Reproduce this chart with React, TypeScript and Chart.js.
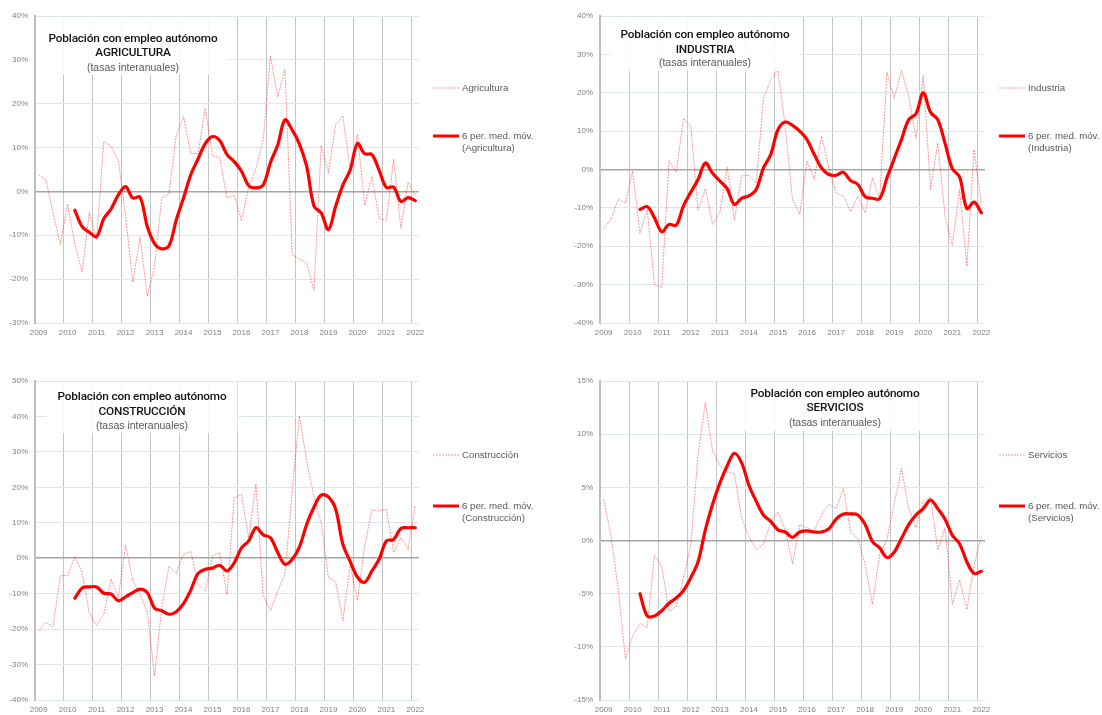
import React, { useEffect, useRef } from 'react';
import { Chart, registerables } from 'chart.js';

Chart.register(...registerables);

// ---------- DATA ----------
const years = ['2009', '2010', '2011', '2012', '2013', '2014', '2015', '2016', '2017', '2018', '2019', '2020', '2021', '2022'];
const quarters = ['T1', 'T2', 'T3', 'T4'];

const categories: string[] = [];
years.forEach((y) => {
  quarters.forEach((q) => {
    if (y === '2022' && q !== 'T1') return;
    categories.push(`${y} ${q}`);
  });
});
const tickLabels = categories.map((c) => (c.endsWith('T1') ? c.slice(0, 4) : ''));

const sectorNames = ['Agricultura', 'Industria', 'Construcción', 'Servicios'];
const sectorTitles = ['AGRICULTURA', 'INDUSTRIA', 'CONSTRUCCIÓN', 'SERVICIOS'];
const titleLine = 'Población con empleo autónomo';
const subtitleLine = '(tasas interanuales)';
const maLabel = '6 per. med. móv.';

const agriculturaTasa = [3.8, 2.7, -5, -12.1, -2.8, -12, -18.4, -4.7, -11, 11.4, 10.3, 7.1, -5.5, -20.7, -10.4, -23.9, -17, -1.4, -0.6, 12.9, 17.1, 8.7, 8.6, 19.0, 8.1, 7.7, -1.5, -0.8, -6.7, 1.1, 5.3, 11.8, 30.9, 21.5, 27.9, -14.4, -15.4, -16.3, -22.6, 10.5, 4.3, 15.2, 17.2, 5, 13, -3.2, 3.4, -6.2, -6.6, 7.4, -8.4, 2.1, -1.1];
const agriculturaMedia = [null, null, null, null, null, -4.3, -8.0, -9.3, -10.3, -6.2, -4.0, -0.8, 1.1, -1.5, -1.3, -8.0, -11.9, -13.1, -12.4, -6.5, -1.5, 3.8, 7.4, 10.9, 12.5, 11.6, 8.4, 6.8, 4.6, 1.3, 0.8, 1.5, 6.6, 10.6, 16.3, 14.0, 10.8, 5.7, -3.3, -4.9, -8.7, -3.4, 1.5, 4.9, 10.9, 8.6, 8.4, 4.8, 0.9, 1.0, -2.3, -1.4, -2.1];

const industriaTasa = [-15.4, -13.0, -7.8, -8.7, -0.4, -16.7, -10.4, -29.9, -30.8, 2.3, -0.7, 13.3, 11.3, -10.6, -5.0, -14.3, -11.3, 0.7, -13.2, -1.7, -1.5, -3.5, 18.4, 23.4, 25.8, 11.3, -7.8, -11.7, 2.2, -2.6, 8.7, 0.4, -6.1, -6.9, -11.0, -6.9, -11.3, -2.2, -7.8, 25.3, 18.5, 25.8, 19.1, 8.1, 24.5, -5.0, 6.9, -12.1, -19.8, -5.2, -25.2, 5.2, -9.1];
const industriaMedia = [null, null, null, null, null, -10.4, -9.7, -12.6, -16.2, -14.3, -14.5, -9.4, -5.9, -2.6, 1.7, -1.0, -3.0, -5.0, -9.1, -7.5, -6.9, -5.2, 0.4, 3.9, 10.4, 12.4, 11.5, 10.0, 7.8, 3.9, 0.4, -1.3, -1.5, -0.7, -2.9, -3.9, -7.1, -7.5, -7.6, -2.2, 2.8, 7.8, 13.0, 14.5, 20.0, 14.9, 13.0, 6.8, 0.2, -1.9, -10.2, -8.5, -11.3];

const construccionTasa = [-20.5, -18.1, -19.3, -4.9, -4.9, 0.5, -4.0, -15.6, -19.0, -15.8, -5.9, -11.1, 3.7, -6.4, -10.1, -15.3, -33.1, -14, -2.2, -4.3, 1.1, 1.9, -7.3, -9.2, 0.7, 1.6, -10.3, 17.1, 18.0, 5.8, 21.0, -10.6, -14.8, -9.2, -4.5, 19, 40.1, 27.4, 17.5, 10.0, -5.4, -6.8, -17.6, -1.7, -12.0, 3.5, 13.6, 13.3, 13.8, 1.6, 5.8, 2.5, 14.9];
const construccionMedia = [null, null, null, null, null, -11.3, -8.4, -8.1, -8.1, -9.9, -10.1, -12.0, -10.9, -9.7, -8.7, -9.7, -14.1, -14.8, -15.8, -15.1, -12.8, -9.0, -4.3, -3.1, -2.8, -2.0, -3.6, -1.3, 2.9, 4.9, 8.6, 6.6, 5.8, 1.6, -1.7, -0.3, 3.2, 9.6, 14.4, 17.8, 17.3, 13.8, 3.9, -0.9, -5.3, -6.8, -3.6, -0.3, 4.9, 5.3, 8.4, 8.6, 8.6];

const serviciosTasa = [3.9, 0.5, -4.5, -11.1, -9.0, -7.8, -8.2, -1.4, -2.4, -6.7, -6.2, -3.5, -0.4, 8.1, 13.0, 8.4, 7.1, 6.4, 6.3, 2.1, 0.4, -0.9, -0.3, 1.7, 2.7, 1.0, -2.2, 1.5, 1.2, 0.9, 2.4, 3.4, 3.0, 4.9, 0.8, 0.2, -2.3, -6.0, -1.3, 0.1, 3.4, 6.8, 3.0, 1.2, 3.7, 4.1, -0.9, 1.2, -6.0, -3.7, -6.5, -2.3, 0.4];
const serviciosMedia = [null, null, null, null, null, -5.0, -7.1, -7.1, -6.6, -5.9, -5.4, -4.7, -3.5, -2.0, 1.0, 3.4, 5.4, 7.0, 8.2, 7.3, 5.2, 3.7, 2.4, 1.8, 1.0, 0.8, 0.3, 0.8, 0.9, 0.8, 0.8, 1.1, 2.0, 2.5, 2.5, 2.4, 1.5, -0.1, -0.7, -1.6, -1.1, 0.2, 1.5, 2.4, 3.0, 3.8, 3.0, 2.0, 0.5, -0.3, -2.0, -3.1, -2.9];

const tasas = [agriculturaTasa, industriaTasa, construccionTasa, serviciosTasa];
const medias = [agriculturaMedia, industriaMedia, construccionMedia, serviciosMedia];
const yMins = [-30, -40, -40, -15];
const yMaxs = [40, 40, 50, 15];
const ySteps = [10, 10, 10, 5];

// ---------- LAYOUT ----------
type Layout = {
  left: number; top: number; w: number; h: number;
  aL: number; aT: number; aR: number; aB: number;
  tDx: number; t1: number; t2: number; t3: number; boxB: number;
  legThin: number; legThick: number;
};
const layouts: Layout[] = [
  { left: 0, top: 0, w: 551, h: 345, aL: 35, aT: 16, aR: 419, aB: 323, tDx: 98, t1: 23, t2: 37, t3: 52, boxB: 59, legThin: 72, legThick: 120 },
  { left: 551, top: 0, w: 551, h: 345, aL: 49, aT: 16, aR: 434, aB: 323, tDx: 105, t1: 19, t2: 34, t3: 47, boxB: 55, legThin: 72, legThick: 120 },
  { left: 0, top: 357, w: 551, h: 358, aL: 35, aT: 24, aR: 419, aB: 343, tDx: 107, t1: 16, t2: 31, t3: 45, boxB: 52, legThin: 74, legThick: 125 },
  { left: 551, top: 357, w: 551, h: 358, aL: 49, aT: 24, aR: 434, aB: 343, tDx: 235, t1: 13, t2: 27, t3: 42, boxB: 50, legThin: 74, legThick: 125 },
];

const FONT = '"Liberation Sans", Arial, sans-serif';
const TITLE_FONT = 'Roboto, "Liberation Sans", Arial, sans-serif';
const TITLE_SIZE = 11.8;
const TITLE_WIDTH = 169;
const THIN_COLOR = 'rgba(255,0,0,0.42)';
const THICK_COLOR = '#ff0000';

function SectorChart({ idx }: { idx: number }) {
  const ref = useRef<HTMLCanvasElement>(null);
  const L = layouts[idx];

  useEffect(() => {
    const name = sectorNames[idx];
    const decor = {
      id: 'decor' + idx,
      beforeDatasetsDraw(chart: any) {
        const { ctx, chartArea: a } = chart;
        ctx.save();
        const cx = a.left + L.tDx;
        ctx.font = `500 ${TITLE_SIZE}px ${TITLE_FONT}`;
        const wRef = ctx.measureText(titleLine).width;
        const spacing = (TITLE_WIDTH - wRef) / titleLine.length;
        const bw = TITLE_WIDTH + 22;
        ctx.fillStyle = 'rgba(255,255,255,0.88)';
        ctx.fillRect(cx - bw / 2, a.top + 1, bw, L.boxB - 1);
        ctx.textAlign = 'center';
        ctx.textBaseline = 'middle';
        ctx.fillStyle = '#111111';
        try {
          (ctx as any).letterSpacing = `${spacing.toFixed(2)}px`;
        } catch (e) {
          /* ignore */
        }
        ctx.fillText(titleLine, cx, a.top + L.t1);
        ctx.fillText(sectorTitles[idx], cx, a.top + L.t2);
        try {
          (ctx as any).letterSpacing = '0px';
        } catch (e) {
          /* ignore */
        }
        ctx.font = `10.5px ${FONT}`;
        ctx.fillStyle = '#595959';
        ctx.fillText(subtitleLine, cx, a.top + L.t3);
        ctx.restore();
      },
      afterDraw(chart: any) {
        const { ctx, chartArea: a } = chart;
        ctx.save();
        const x0 = a.right + 14;
        const yThin = a.top + L.legThin;
        const yThick = a.top + L.legThick;
        ctx.strokeStyle = THIN_COLOR;
        ctx.lineWidth = 1;
        ctx.setLineDash([2, 1]);
        ctx.beginPath();
        ctx.moveTo(x0, yThin);
        ctx.lineTo(x0 + 26, yThin);
        ctx.stroke();
        ctx.setLineDash([]);
        ctx.strokeStyle = THICK_COLOR;
        ctx.lineWidth = 3;
        ctx.beginPath();
        ctx.moveTo(x0, yThick);
        ctx.lineTo(x0 + 26, yThick);
        ctx.stroke();
        ctx.font = `9.7px ${FONT}`;
        ctx.fillStyle = '#595959';
        ctx.textAlign = 'left';
        ctx.textBaseline = 'middle';
        ctx.fillText(name, x0 + 29, yThin);
        ctx.fillText(maLabel, x0 + 29, yThick);
        ctx.fillText(`(${name})`, x0 + 29, yThick + 12);
        ctx.restore();
      },
    };

    const chart = new Chart(ref.current as HTMLCanvasElement, {
      type: 'line',
      data: {
        labels: categories,
        datasets: [
          {
            label: name,
            data: tasas[idx],
            borderColor: THIN_COLOR,
            borderWidth: 1,
            borderDash: [2, 1],
            pointRadius: 0,
            tension: 0,
            fill: false,
            order: 2,
          },
          {
            label: `${maLabel} (${name})`,
            data: medias[idx] as any,
            borderColor: THICK_COLOR,
            borderWidth: 3.2,
            pointRadius: 0,
            tension: 0.35,
            fill: false,
            borderJoinStyle: 'round',
            borderCapStyle: 'round',
            order: 1,
          },
        ],
      },
      options: {
        responsive: false,
        animation: false,
        events: [],
        layout: { padding: { left: 0, top: L.aT, right: L.w - L.aR, bottom: 0 } },
        plugins: { legend: { display: false }, tooltip: { enabled: false }, title: { display: false } },
        scales: {
          x: {
            type: 'category',
            offset: true,
            grid: {
              offset: true,
              drawTicks: false,
              color: (c: any) => (c.index > 0 && c.index % 4 === 0 ? '#c4c4c4' : 'rgba(0,0,0,0)'),
              lineWidth: 1,
            },
            border: { display: false },
            ticks: {
              autoSkip: false,
              maxRotation: 0,
              minRotation: 0,
              padding: 5,
              color: '#7f7f7f',
              font: { family: FONT, size: 8 },
              callback: (_v: any, i: number) => tickLabels[i],
            },
            afterFit: (s: any) => {
              s.height = L.h - L.aB;
            },
          },
          y: {
            min: yMins[idx],
            max: yMaxs[idx],
            ticks: {
              stepSize: ySteps[idx],
              padding: 7,
              color: '#7f7f7f',
              font: { family: FONT, size: 8 },
              callback: (v: any) => `${v}%`,
            },
            grid: {
              drawTicks: false,
              color: (c: any) => (c.tick && c.tick.value === 0 ? '#a6a6a6' : '#dfe5ee'),
              lineWidth: (c: any) => (c.tick && c.tick.value === 0 ? 1.6 : 1),
            },
            border: { display: true, color: '#bfbfbf', width: 2 },
            afterFit: (s: any) => {
              s.width = L.aL;
            },
          },
        },
      },
      plugins: [decor],
    } as any);
    return () => chart.destroy();
  }, [idx]);

  return (
    <canvas
      ref={ref}
      width={L.w}
      height={L.h}
      style={{ position: 'absolute', left: L.left, top: L.top, width: L.w, height: L.h }}
    />
  );
}

export default function App() {
  return (
    <div style={{ position: 'absolute', left: 0, top: 0, width: 1102, height: 715, background: '#ffffff', overflow: 'hidden' }}>
      {[0, 1, 2, 3].map((i) => (
        <SectorChart key={i} idx={i} />
      ))}
    </div>
  );
}
